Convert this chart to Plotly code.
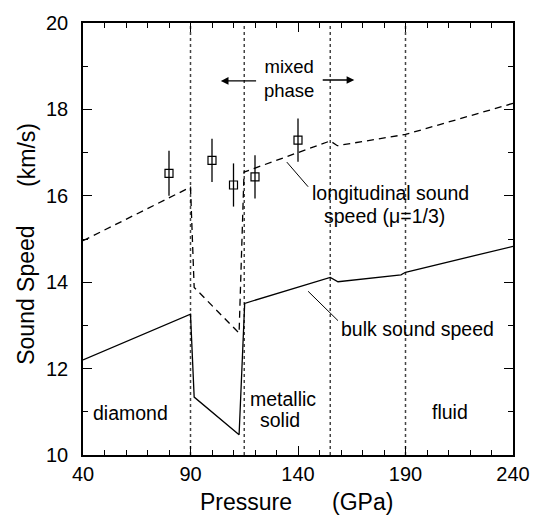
import plotly.graph_objects as go

# ---------------- data ----------------
# longitudinal sound speed (mu = 1/3), dashed
long_p = [40, 90, 91.7, 112.6, 114.9, 155, 158.3, 190, 240]
long_v = [14.96, 16.2, 13.88, 12.82, 16.55, 17.27, 17.16, 17.42, 18.14]
# bulk sound speed, solid
bulk_p = [40, 90, 91.7, 112.6, 115.2, 155, 158.6, 187.9, 190, 240]
bulk_v = [12.2, 13.26, 11.34, 10.47, 13.51, 14.11, 14.01, 14.17, 14.23, 14.83]
# experimental points
exp_p = [80, 100, 110, 120, 140]
exp_v = [16.52, 16.82, 16.25, 16.44, 17.29]
exp_err = [0.52, 0.5, 0.5, 0.5, 0.5]
# phase boundaries
boundaries = [90, 115, 155, 190]

FONT = "Liberation Sans, Arial, sans-serif"

fig = go.Figure()

for b in boundaries:
    fig.add_trace(go.Scatter(x=[b, b], y=[10, 20], mode="lines",
                             line=dict(color="#444", width=1.5, dash="dot"),
                             showlegend=False, hoverinfo="skip"))

fig.add_trace(go.Scatter(x=long_p, y=long_v, mode="lines",
                         line=dict(color="black", width=1.3, dash="7px,5px"),
                         showlegend=False))
fig.add_trace(go.Scatter(x=bulk_p, y=bulk_v, mode="lines",
                         line=dict(color="black", width=1.3),
                         showlegend=False))
fig.add_trace(go.Scatter(x=exp_p, y=exp_v, mode="markers",
                         marker=dict(symbol="square-open", size=8,
                                     color="black", line=dict(width=1.2)),
                         error_y=dict(type="data", array=exp_err, width=0,
                                      thickness=1.3, color="black"),
                         showlegend=False))

def txt(x, y, s, size=19.5, **kw):
    fig.add_annotation(x=x, y=y, xref="x", yref="y", text=s, showarrow=False,
                       xanchor="center", yanchor="middle",
                       font=dict(family=FONT, size=size, color="black"), **kw)

txt(135.9, 18.72, "mixed<br>phase", size=18.5)
txt(183.1, 16.075, "longitudinal sound")
txt(180.2, 15.53, "speed (μ=1/3)")
txt(195.6, 12.92, "bulk sound speed")
txt(62.3, 10.98, "diamond")
txt(133.1, 11.29, "metallic")
txt(131.6, 10.81, "solid")
txt(210.7, 11.0, "fluid")

# arrows for mixed phase
for (x0, x1, y) in [(121.2, 104.1, 18.66), (150.8, 166.2, 18.68)]:
    fig.add_annotation(x=x1, y=y, ax=x0, ay=y, xref="x", yref="y",
                       axref="x", ayref="y", text="", showarrow=True,
                       arrowhead=2, arrowsize=1.1, arrowwidth=1.4,
                       arrowcolor="black")

# leader lines
fig.add_shape(type="line", x0=134.8, y0=16.78, x1=144.7, y1=16.21,
              xref="x", yref="y", line=dict(color="black", width=1))
fig.add_shape(type="line", x0=144.7, y0=13.79, x1=158.6, y1=13.11,
              xref="x", yref="y", line=dict(color="black", width=1))

# axis titles
def ptxt(x, y, s, angle=0):
    fig.add_annotation(x=x, y=y, xref="paper", yref="paper", text=s,
                       showarrow=False, xanchor="center", yanchor="middle",
                       textangle=angle,
                       font=dict(family=FONT, size=23, color="black"))

# pixel -> paper helpers (plot area: x 83..523, y 15..455)
def px(xp):
    return (xp - 83) / 440.0
def py(yp):
    return (455 - yp) / 440.0

ptxt(px(250), py(503), "Pressure")
ptxt(px(369.5), py(503), "(GPa)")
ptxt(px(25), py(292.5), "Sound Speed", angle=-90)
ptxt(px(25), py(149), "(km/s)", angle=-90)

axis_common = dict(showline=True, linecolor="black", linewidth=1.5,
                   mirror="ticks", ticks="inside", ticklen=9, tickwidth=1.2,
                   tickcolor="black", showgrid=False, zeroline=False,
                   tickfont=dict(family=FONT, size=20, color="black"))

fig.update_xaxes(range=[40, 240], tick0=40, dtick=50,
                 minor=dict(dtick=10, ticks="inside", ticklen=5,
                            tickwidth=1.2, tickcolor="black", showgrid=False),
                 **axis_common)
fig.update_yaxes(range=[10, 20], tick0=10, dtick=2, ticklabelstandoff=9,
                 minor=dict(dtick=1, ticks="inside", ticklen=5,
                            tickwidth=1.2, tickcolor="black", showgrid=False),
                 **axis_common)

fig.update_layout(width=542, height=518,
                  margin=dict(l=83, r=19, t=15, b=63),
                  plot_bgcolor="white", paper_bgcolor="white",
                  showlegend=False)

fig.write_html("out.html")
